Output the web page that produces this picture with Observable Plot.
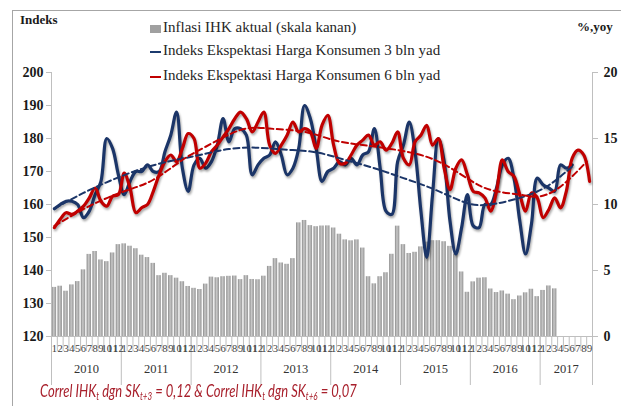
<!DOCTYPE html>
<html><head><meta charset="utf-8">
<script src="https://cdn.jsdelivr.net/npm/d3@7"></script>
<script src="https://cdn.jsdelivr.net/npm/@observablehq/plot@0.6"></script>
<style>
body{margin:0;background:#fff;}
#wrap{position:relative;width:621px;height:406px;overflow:hidden;font-family:"Liberation Serif","Times New Roman","DejaVu Serif",serif;color:#262626;}
#frame{position:absolute;left:12px;top:10px;width:640px;height:440px;border-left:1px solid #a6a6a6;border-top:1px solid #a6a6a6;}
#chart{position:absolute;left:0;top:0;}
.lab{position:absolute;font-weight:bold;font-size:13px;color:#1a1a1a;}
.leg{position:absolute;left:150px;font-size:15px;line-height:18px;white-space:nowrap;}
.sw{display:inline-block;vertical-align:middle;margin-right:2px;}
#caption{position:absolute;left:40px;top:380px;font-family:Lato,sans-serif;font-style:italic;font-size:17px;color:#a8202c;white-space:nowrap;transform:scaleX(0.765);transform-origin:0 50%;}
#caption sub{font-size:10.5px;vertical-align:-3px;line-height:0;}
</style></head>
<body>
<div id="wrap">
  <div id="frame"></div>
  <div id="chart"></div>
  <div class="lab" style="left:20px;top:12px;">Indeks</div>
  <div class="lab" style="left:577px;top:19px;">%,yoy</div>
  <div class="leg" style="top:18px;"><span class="sw" style="width:11px;height:8px;background:#a0a0a0;"></span>Inflasi IHK aktual (skala kanan)</div>
  <div class="leg" style="top:41px;"><span class="sw" style="width:11px;height:2px;background:#1b3a6e;"></span>Indeks Ekspektasi Harga Konsumen 3 bln yad</div>
  <div class="leg" style="top:66px;"><span class="sw" style="width:11px;height:2px;background:#c00000;"></span>Indeks Ekspektasi Harga Konsumen 6 bln yad</div>
  <div id="caption">Correl IHK<sub>t</sub> dgn SK<sub>t+3</sub> = 0,12 &amp; Correl IHK<sub>t</sub> dgn SK<sub>t+6</sub> = 0,07</div>
</div>
<script>
// Month index 0 = Jan 2010 ... 92 = Sep 2017
const monthLabels = ["1","2","3","4","5","6","7","8","9","10","11","12"];
const years = ["2010","2011","2012","2013","2014","2015","2016","2017"];
const yearMid = [5.5, 17.5, 29.5, 41.5, 53.5, 65.5, 77.5, 88];
const yearBounds = [-0.5, 11.5, 23.5, 35.5, 47.5, 59.5, 71.5, 83.5, 92.5];

// Inflasi IHK aktual (% yoy), Jan 2010 - Mar 2017 (right scale)
const inflasi = [
  3.72,3.81,3.43,3.91,4.16,5.05,6.22,6.44,5.80,5.67,6.33,6.96,
  7.02,6.84,6.65,6.16,5.98,5.54,4.61,4.79,4.61,4.42,4.15,3.79,
  3.65,3.56,3.97,4.50,4.45,4.53,4.56,4.58,4.31,4.61,4.32,4.30,
  4.57,5.31,5.90,5.57,5.47,5.90,8.61,8.79,8.40,8.32,8.37,8.38,
  8.22,7.75,7.32,7.25,7.32,6.70,4.53,3.99,4.53,4.83,6.23,8.36,
  6.96,6.29,6.38,6.79,7.15,7.26,7.26,7.18,6.83,6.25,4.89,3.35,
  4.14,4.42,4.45,3.60,3.33,3.45,3.21,2.79,3.07,3.31,3.58,3.02,
  3.49,3.83,3.61
];

// Indeks Ekspektasi Harga Konsumen 3 bln yad, Jan 2010 - Jun 2017
const ekspektasi3 = [
  158.7,160,161,161,160,156,158,163,167,180,177,169,
  163,167,170,170,172,170,170,176,181,188,171,164,
  172,174,171,173,178,186,179,183,183,181,169,172,
  174,175,179,175,169,171,177,190,186,177,167,170,
  171,173,172,174,172,175,176,183,171,158,157,173,
  178,185,176,158,144,163,180,173,155,145,153,163,
  153.5,153,160,160,165,172,174,168,155,145,154,168,
  166,165,164,172,171,172
];

// Indeks Ekspektasi Harga Konsumen 6 bln yad, Jan 2010 - Sep 2017
const ekspektasi6 = [
  153,155.5,157.5,157,158,159.5,162,165,161,159.5,162.5,163,
  169.5,165,157.5,159,160,164,169,173,175,173,177,181.5,
  180,171,172.5,176,178,180.5,183,186,188,186,182,185,
  188,178,175.5,178,181,185,182,183,182,177,184,187,
  178,172.5,172.5,175,178,179.5,181,178,179,176.5,178.5,182,
  174,172,179,181,184,178,180,171,164.5,171,173.5,169,
  164,163.5,162,158,164,173.5,170,168.5,163,158,163.5,162,
  156,158.5,162,159,164,174,176.5,175,167
];

// Trend lines (dashed), read at sampled months
const trend3Months = [0,5,10,15,20,25,30,35,40,45,50,55,60,65,70,73,76,80,84,87,89];
const trend3Values = [158.8,163.5,167.5,170.8,173.2,175,176.8,177.2,176.6,175.8,173.5,171,168,164.8,161,159.8,160.3,162,164.8,168.5,171.5];
const trend6Months = [0,6,12,17,22,26,32,37,43,48,53,59,65,70,73,76,80,83,86,89,91.5];
const trend6Values = [153.5,159.5,164,167.5,173.5,177.5,182.6,183,182,179.5,178,176.5,173.8,169,165.8,164,163,162.4,164.2,168.5,173];

// right scale (0-20 %) shares the left scale (120-200): 1% = 4 index points
const toLeft = v => 120 + 4 * v;

const inflData = inflasi.map((v, m) => ({m, v}));
const e3Data = ekspektasi3.map((v, m) => ({m, v}));
const e6Data = ekspektasi6.map((v, m) => ({m, v}));
const t3Data = trend3Months.map((m, i) => ({m, v: trend3Values[i]}));
const t6Data = trend6Months.map((m, i) => ({m, v: trend6Values[i]}));
const allMonths = d3.range(93);

const axisGray = "#bfbfbf";
const serif = "Liberation Serif, Times New Roman, DejaVu Serif, serif";
const chart = Plot.plot({
  width: 621, height: 406,
  marginLeft: 51, marginRight: 29, marginTop: 72, marginBottom: 70,
  x: {domain: [-0.5, 92.5], axis: null},
  y: {domain: [120, 200], axis: null},
  style: {fontFamily: serif, background: "transparent", overflow: "visible"},
  marks: [
    Plot.rect(inflData, {x1: d => d.m - 0.38, x2: d => d.m + 0.38, y1: 120, y2: d => toLeft(d.v), fill: "url(#barGrad)"}),
    Plot.ruleX([-0.5], {stroke: axisGray}),
    Plot.ruleX([92.5], {stroke: axisGray}),
    Plot.ruleY([120], {stroke: axisGray}),
    Plot.axisY({ticks: d3.range(120, 201, 10), anchor: "left", tickSize: 5, tickPadding: 3, fontSize: 14, fontWeight: "bold", stroke: axisGray, fill: "#1a1a1a", label: null}),
    Plot.axisY({ticks: [120, 140, 160, 180, 200], anchor: "right", tickSize: 5, tickPadding: 6, fontSize: 14, fontWeight: "bold", stroke: axisGray, fill: "#1a1a1a", label: null, tickFormat: d => String((d - 120) / 4)}),
    Plot.axisX({ticks: d3.range(-0.5, 93, 1), anchor: "bottom", tickSize: 15, tickFormat: () => "", stroke: axisGray, label: null}),
    Plot.axisX({ticks: yearBounds, anchor: "bottom", tickSize: 49, tickFormat: () => "", stroke: axisGray, label: null}),
    Plot.axisX({ticks: allMonths, anchor: "bottom", tickSize: 0, tickPadding: 8, fontSize: 10.5, fill: "#404040", tickFormat: d => monthLabels[d % 12], label: null}),
    Plot.axisX({ticks: yearMid, anchor: "bottom", tickSize: 0, tickPadding: 28, fontSize: 12.5, fill: "#333", tickFormat: d => years[yearMid.indexOf(d)], label: null}),
    Plot.line(e3Data, {x: "m", y: "v", stroke: "#1b3568", strokeWidth: 3.2, curve: "catmull-rom"}),
    Plot.line(e6Data, {x: "m", y: "v", stroke: "#c00000", strokeWidth: 3.2, curve: "catmull-rom"}),
    Plot.line(t3Data, {x: "m", y: "v", stroke: "#1b3568", strokeWidth: 2, strokeDasharray: "6,3.5", curve: "natural"}),
    Plot.line(t6Data, {x: "m", y: "v", stroke: "#c00000", strokeWidth: 2, strokeDasharray: "6,3.5", curve: "natural"})
  ]
});

// gradient for bars and shadow for solid lines
const ns = "http://www.w3.org/2000/svg";
const defs = document.createElementNS(ns, "defs");
defs.innerHTML = '<linearGradient id="barGrad" x1="0" x2="1" y1="0" y2="0">' +
  '<stop offset="0" stop-color="#8a8a8a"/><stop offset="0.45" stop-color="#c8c8c8"/><stop offset="1" stop-color="#939393"/></linearGradient>';
chart.insertBefore(defs, chart.firstChild);
const lines = chart.querySelectorAll('g[aria-label="line"]');
[0, 1].forEach(i => { if (lines[i]) lines[i].style.filter = "drop-shadow(1px 2px 1.2px rgba(0,0,0,0.35))"; });

document.getElementById("chart").appendChild(chart);
</script>
</body></html>
